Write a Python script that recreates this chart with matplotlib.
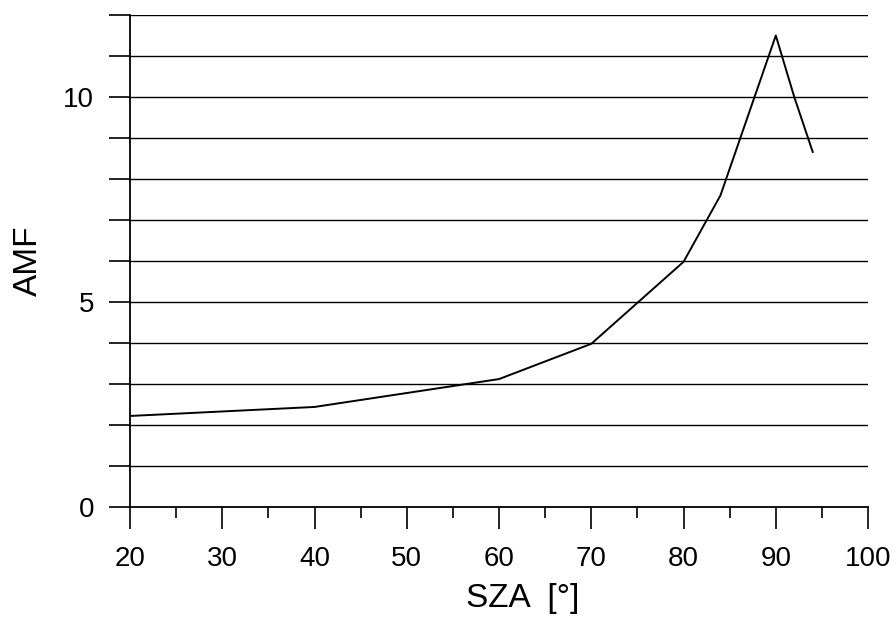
import matplotlib
matplotlib.use("Agg")
import matplotlib.pyplot as plt
from matplotlib.ticker import MultipleLocator

plt.rcParams['font.family'] = ['Liberation Sans', 'DejaVu Sans']

sza = [20, 40, 60, 70, 80, 84, 90, 92, 94]
amf = [2.22, 2.44, 3.12, 3.98, 5.98, 7.6, 11.5, 10.0, 8.66]

x_ticks = [20, 30, 40, 50, 60, 70, 80, 90, 100]
y_ticks = [0, 5, 10]

fig = plt.figure(figsize=(8.94, 6.22), dpi=100)
ax = fig.add_axes([0.1454, 0.1849, 0.971 - 0.1454, 0.9759 - 0.1849])

for v in range(1, 13):
    ax.axhline(v, color='black', lw=1.0, zorder=1)

ax.plot(sza, amf, color='black', lw=1.4, zorder=3)

ax.set_xlim(20, 100)
ax.set_ylim(0, 12)
ax.set_xticks(x_ticks)
ax.xaxis.set_minor_locator(MultipleLocator(5))
ax.set_yticks(y_ticks)
ax.yaxis.set_minor_locator(MultipleLocator(1))

ax.spines['top'].set_visible(False)
ax.spines['right'].set_visible(False)
for s in ('left', 'bottom'):
    ax.spines[s].set_linewidth(1.3)

ax.tick_params(axis='x', which='major', length=16, width=1.2, labelsize=20, pad=12)
ax.tick_params(axis='x', which='minor', length=8, width=1.2)
ax.tick_params(axis='y', which='major', length=15, width=1.2, labelsize=20, pad=11)
ax.tick_params(axis='y', which='minor', length=15, width=1.2)

ax.set_xlabel('SZA  [°]', fontsize=24)
ax.xaxis.label.set_va('baseline')
ax.xaxis.set_label_coords(0.5325, -0.2033)
ax.set_ylabel('AMF', fontsize=24)
ax.yaxis.set_label_coords(-0.1165, 0.5)

fig.savefig('out.png', dpi=100)
